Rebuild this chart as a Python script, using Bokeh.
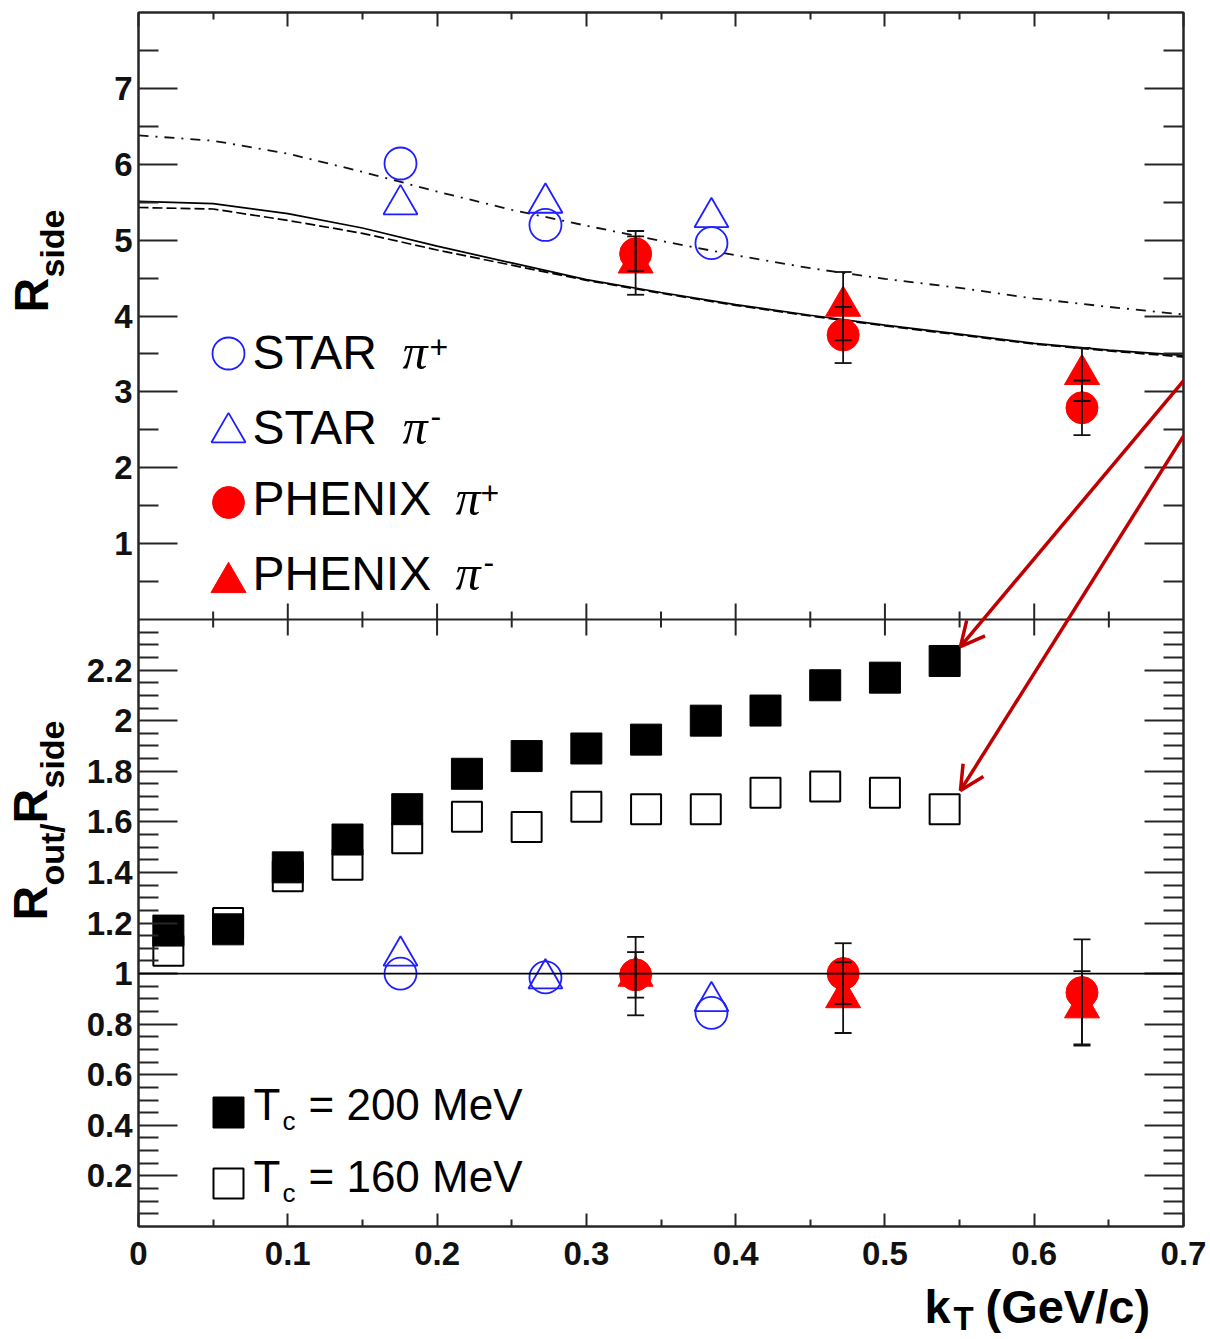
from math import pi
from bokeh.plotting import figure
from bokeh.layouts import row, column
from bokeh.models import (Range1d, LinearAxis, FixedTicker, Span, Label, Whisker,
                          TeeHead, Arrow, OpenHead, ColumnDataSource)
from bokeh.embed import file_html
from bokeh.resources import INLINE

# ---------------- data ----------------
# STAR pions
star_k = [0.1755, 0.2726, 0.3838]
star_pip_rside = [6.01, 5.20, 4.96]
star_pim_rside = [5.47, 5.49, 5.30]
star_pip_ratio = [1.00, 0.985, 0.845]
star_pim_ratio = [1.07, 0.98, 0.89]

# PHENIX pions
phenix_k = [0.333, 0.472, 0.632]
phenix_pip_rside = [4.82, 3.75, 2.79]
phenix_pip_rside_err = [0.23, 0.37, 0.36]
phenix_pim_rside = [4.70, 4.13, 3.23]
phenix_pim_rside_err = [0.42, 0.45, 0.35]
phenix_pip_ratio = [0.995, 1.00, 0.925]
phenix_pip_ratio_err = [0.09, 0.12, 0.21]
phenix_pim_ratio = [0.99, 0.905, 0.865]
phenix_pim_ratio_err = [0.155, 0.14, 0.145]

# hydro model Rout/Rside
model_k = [0.02, 0.06, 0.10, 0.14, 0.18, 0.22, 0.26, 0.30, 0.34, 0.38, 0.42, 0.46, 0.50, 0.54]
ratio_tc200 = [1.17, 1.175, 1.42, 1.53, 1.65, 1.79, 1.86, 1.89, 1.925, 2.00, 2.04, 2.14, 2.17, 2.236]
ratio_tc160 = [1.09, 1.20, 1.385, 1.43, 1.535, 1.62, 1.58, 1.66, 1.65, 1.65, 1.715, 1.74, 1.715, 1.65]

# model Rside curves
curve_k = [0.0, 0.05, 0.10, 0.15, 0.20, 0.25, 0.30, 0.35, 0.40, 0.45, 0.50, 0.55, 0.60, 0.65, 0.70]
rside_solid = [5.51, 5.48, 5.35, 5.16, 4.92, 4.70, 4.48, 4.31, 4.15, 4.01, 3.88, 3.76, 3.64, 3.55, 3.48]
rside_dashed = [5.43, 5.41, 5.26, 5.09, 4.87, 4.67, 4.47, 4.30, 4.14, 4.00, 3.87, 3.75, 3.63, 3.54, 3.46]
rside_dashdot = [6.38, 6.31, 6.14, 5.90, 5.64, 5.40, 5.19, 4.99, 4.80, 4.63, 4.49, 4.37, 4.23, 4.12, 4.02]

# ticks
x_ticks = [0.0, 0.1, 0.2, 0.3, 0.4, 0.5, 0.6, 0.7]
x_tick_labels = ["0", "0.1", "0.2", "0.3", "0.4", "0.5", "0.6", "0.7"]
x_minor = [0.05, 0.15, 0.25, 0.35, 0.45, 0.55, 0.65]
top_ticks = [1, 2, 3, 4, 5, 6, 7]
top_tick_labels = ["1", "2", "3", "4", "5", "6", "7"]
top_minor = [0.5, 1.5, 2.5, 3.5, 4.5, 5.5, 6.5, 7.5]
bot_ticks = [0.2, 0.4, 0.6, 0.8, 1.0, 1.2, 1.4, 1.6, 1.8, 2.0, 2.2]
bot_tick_labels = ["0.2", "0.4", "0.6", "0.8", "1", "1.2", "1.4", "1.6", "1.8", "2", "2.2"]
bot_minor = [round(0.05 * i, 2) for i in range(1, 48) if i % 4 != 0]

# annotation arrows (kT, Rout/Rside coordinates)
arrow_start = [(0.718, 3.47), (0.718, 3.294)]
arrow_end = [(0.5506, 2.293), (0.5506, 1.724)]

# ---------------- layout (page pixels) ----------------
X_MAX = 0.7
TOP_MAX = 8.0
SPLIT = 2.4
SCALE = SPLIT / TOP_MAX
PAGE_W, PAGE_H = 1210, 1339
LEFT_W = 80                 # width of the strip holding the y titles
MAIN_H = 1280               # height of the main figure
F_LEFT, F_TOP, F_RIGHT, F_BOTTOM = 138, 12, 1183, 1226   # frame in page pixels
AX = "#262626"
FONT = "Liberation Sans"
BASE_SHIFT = 0.39           # Label baseline correction (fraction of the font size)

p = figure(width=PAGE_W - LEFT_W, height=MAIN_H, x_range=Range1d(0, X_MAX),
           y_range=Range1d(0, 2 * SPLIT),
           x_axis_type=None, y_axis_type=None, output_backend="svg", toolbar_location=None,
           min_border_left=F_LEFT - LEFT_W, min_border_top=F_TOP,
           min_border_right=PAGE_W - F_RIGHT, min_border_bottom=MAIN_H - F_BOTTOM)
p.extra_y_ranges = {"top": Range1d(-TOP_MAX, TOP_MAX), "py": Range1d(0, F_BOTTOM - F_TOP)}
p.extra_x_ranges = {"px": Range1d(0, F_RIGHT - F_LEFT)}
p.background_fill_color = "white"
p.border_fill_color = "white"
p.outline_line_color = AX
p.outline_line_width = 2


def text_fig(w, h):
    f = figure(width=w, height=h, x_range=Range1d(0, w), y_range=Range1d(0, h),
               x_axis_type=None, y_axis_type=None, output_backend="svg", toolbar_location=None,
               min_border=0, min_border_left=0, min_border_right=0, min_border_top=0,
               min_border_bottom=0)
    f.outline_line_color = None
    f.background_fill_color = "white"
    f.border_fill_color = "white"
    return f


left = text_fig(LEFT_W, MAIN_H)
bottom = text_fig(PAGE_W, PAGE_H - MAIN_H)


def style_axis(ax, major_in, minor_in, labels=None, standoff=0):
    ax.axis_line_color = AX
    ax.axis_line_width = 2
    ax.major_tick_line_color = AX
    ax.major_tick_line_width = 2
    ax.minor_tick_line_color = AX
    ax.minor_tick_line_width = 2
    ax.major_tick_in = major_in
    ax.major_tick_out = 0
    ax.minor_tick_in = minor_in
    ax.minor_tick_out = 0
    if labels is None:
        ax.major_label_text_font_size = "0px"
        ax.major_label_text_alpha = 0
        ax.major_label_standoff = 0
    else:
        ax.major_label_overrides = labels
        ax.major_label_text_font = FONT
        ax.major_label_text_font_style = "bold"
        ax.major_label_text_font_size = "33px"
        ax.major_label_text_color = "#111111"
        ax.major_label_standoff = standoff


x_over = {t: s for t, s in zip(x_ticks, x_tick_labels)}
xb = LinearAxis(ticker=FixedTicker(ticks=x_ticks, minor_ticks=x_minor))
style_axis(xb, 13, 7, x_over, 15)
p.add_layout(xb, "below")
xt = LinearAxis(ticker=FixedTicker(ticks=x_ticks, minor_ticks=x_minor))
style_axis(xt, 14, 7)
p.add_layout(xt, "above")

top_pos = [SPLIT + v * SCALE for v in top_ticks]
top_minor_pos = [SPLIT + v * SCALE for v in top_minor]
y_ticks = bot_ticks + top_pos
y_minor = bot_minor + top_minor_pos
y_over = {t: s for t, s in zip(bot_ticks, bot_tick_labels)}
y_over.update({t: s for t, s in zip(top_pos, top_tick_labels)})
yl = LinearAxis(ticker=FixedTicker(ticks=y_ticks, minor_ticks=y_minor))
style_axis(yl, 39, 20, y_over, 6)
p.add_layout(yl, "left")
yr = LinearAxis(ticker=FixedTicker(ticks=y_ticks, minor_ticks=y_minor))
style_axis(yr, 39, 20)
p.add_layout(yr, "right")

# boundary between the two pads, with ticks on both sides
p.add_layout(Span(location=SPLIT, dimension="width", line_color=AX, line_width=2))
p.scatter(x=x_ticks[1:-1], y=[SPLIT] * (len(x_ticks) - 2), marker="dash", angle=pi / 2,
          size=32, line_color=AX, line_width=2)
p.scatter(x=x_minor, y=[SPLIT] * len(x_minor), marker="dash", angle=pi / 2,
          size=16, line_color=AX, line_width=2)
# unity line
p.add_layout(Span(location=1.0, dimension="width", line_color="black", line_width=1.6))

# ---------------- top pad: Rside ----------------
p.line(curve_k, rside_solid, y_range_name="top", line_color="black", line_width=1.7)
p.line(curve_k, rside_dashed, y_range_name="top", line_color="black", line_width=1.7,
       line_dash="10 4")
p.line(curve_k, rside_dashdot, y_range_name="top", line_color="#111111", line_width=1.8,
       line_dash="10 7 2 7")

BLUE = "#1f1fff"
RED = "#ff0000"
p.scatter(star_k, star_pip_rside, y_range_name="top", marker="circle", size=32,
          fill_color=None, line_color=BLUE, line_width=1.8)
p.scatter(star_k, star_pim_rside, y_range_name="top", marker="triangle", size=34,
          fill_color=None, line_color=BLUE, line_width=1.8)
p.scatter(phenix_k, phenix_pip_rside, y_range_name="top", marker="circle", size=32,
          fill_color=RED, line_color=RED)
p.scatter(phenix_k, phenix_pim_rside, y_range_name="top", marker="triangle", size=35,
          fill_color=RED, line_color=RED)


def whiskers(k, v, e, yname):
    src = ColumnDataSource(dict(base=k, upper=[a + b for a, b in zip(v, e)],
                                lower=[a - b for a, b in zip(v, e)]))
    w = Whisker(source=src, base="base", upper="upper", lower="lower", dimension="height",
                line_color="#111111", line_width=1.8, level="annotation",
                upper_head=TeeHead(size=17, line_color="#111111", line_width=1.8),
                lower_head=TeeHead(size=17, line_color="#111111", line_width=1.8))
    if yname:
        w.y_range_name = yname
    p.add_layout(w)


whiskers(phenix_k, phenix_pip_rside, phenix_pip_rside_err, "top")
whiskers(phenix_k, phenix_pim_rside, phenix_pim_rside_err, "top")

# ---------------- bottom pad: Rout/Rside ----------------
p.scatter(model_k, ratio_tc200, marker="square", size=31, fill_color="black", line_color="black")
p.scatter(model_k, ratio_tc160, marker="square", size=30, fill_color=None, line_color="black",
          line_width=2)
p.scatter(star_k, star_pip_ratio, marker="circle", size=32, fill_color=None, line_color=BLUE,
          line_width=1.8)
p.scatter(star_k, star_pim_ratio, marker="triangle", size=34, fill_color=None, line_color=BLUE,
          line_width=1.8)
p.scatter(phenix_k, phenix_pip_ratio, marker="circle", size=32, fill_color=RED, line_color=RED)
p.scatter(phenix_k, phenix_pim_ratio, marker="triangle", size=35, fill_color=RED, line_color=RED)
whiskers(phenix_k, phenix_pip_ratio, phenix_pip_ratio_err, None)
whiskers(phenix_k, phenix_pim_ratio, phenix_pim_ratio_err, None)

# arrows
for (xs, ys), (xe, ye) in zip(arrow_start, arrow_end):
    p.add_layout(Arrow(x_start=xs, y_start=ys, x_end=xe, y_end=ye, line_color="#c00000",
                       line_width=3.5, level="overlay",
                       end=OpenHead(size=24, line_color="#c00000", line_width=3.5)))


# ---------------- texts ----------------
def txt(fig, org, s, px, py, size, style="normal", font=FONT, rotated=False):
    """org = page position (left, bottom) of fig's frame; (px, py) = baseline start on page."""
    shift = BASE_SHIFT * size
    if rotated:
        x, y, ang = px - shift - org[0], org[1] - py, pi / 2
    else:
        x, y, ang = px - org[0], org[1] - py + shift, 0.0
    fig.add_layout(Label(x=x, y=y, x_units="screen", y_units="screen", text=s,
                         text_font=font, text_font_size=f"{size}px", text_font_style=style,
                         text_color="black", angle=ang, text_align="left",
                         text_baseline="alphabetic"))


MAIN = (F_LEFT, F_BOTTOM)
LEFT = (0, F_BOTTOM)        # the title strip's frame is aligned with the main frame
BOT = (0, PAGE_H)


def mark(px, py, **kw):
    p.scatter([px - F_LEFT], [F_BOTTOM - py], x_range_name="px", y_range_name="py", **kw)


# axis titles
txt(left, LEFT, "R", 50, 312, 48, "bold", rotated=True)
txt(left, LEFT, "side", 65, 277, 34, "bold", rotated=True)
txt(left, LEFT, "R", 49, 920, 48, "bold", rotated=True)
txt(left, LEFT, "out/", 65, 885, 34, "bold", rotated=True)
txt(left, LEFT, "R", 49, 823, 48, "bold", rotated=True)
txt(left, LEFT, "side", 65, 788, 34, "bold", rotated=True)
txt(bottom, BOT, "k", 924, 1324, 47, "bold")
txt(bottom, BOT, "T", 953, 1331, 33, "bold")
txt(bottom, BOT, "(GeV/c)", 985, 1324, 47, "bold")

# legend, top pad
legend_names = ["STAR", "STAR", "PHENIX", "PHENIX"]
legend_charge = ["+", "-", "+", "-"]
base_y = [371, 446, 517, 592]
pi_x = [402, 402, 455, 455]
sup_x = [429, 430, 480, 483]
for name, ch, by, pxx, sx in zip(legend_names, legend_charge, base_y, pi_x, sup_x):
    txt(p, MAIN, name, 252, by, 48)
    txt(p, MAIN, "\u03c0", pxx, by, 50, "italic", font="Liberation Serif")
    txt(p, MAIN, ch, sx, by - (12 if ch == "+" else 18), 32)

mark(228, 353, marker="circle", size=32, fill_color=None, line_color=BLUE, line_width=1.8)
mark(228, 432, marker="triangle", size=34, fill_color=None, line_color=BLUE, line_width=1.8)
mark(228, 502, marker="circle", size=32, fill_color=RED, line_color=RED)
mark(228, 582, marker="triangle", size=35, fill_color=RED, line_color=RED)

# legend, bottom pad
tc_labels = ["= 200 MeV", "= 160 MeV"]
tc_base = [1121, 1193]
for lab, by in zip(tc_labels, tc_base):
    txt(p, MAIN, "T", 253, by, 44)
    txt(p, MAIN, "c", 282, by + 10, 26)
    txt(p, MAIN, lab, 308, by, 44)
mark(228, 1112, marker="square", size=31, fill_color="black", line_color="black")
mark(228, 1183, marker="square", size=30, fill_color=None, line_color="black", line_width=2)

layout = column(row(left, p, spacing=0), bottom, spacing=0)
open("out.html", "w").write(file_html(layout, INLINE))
